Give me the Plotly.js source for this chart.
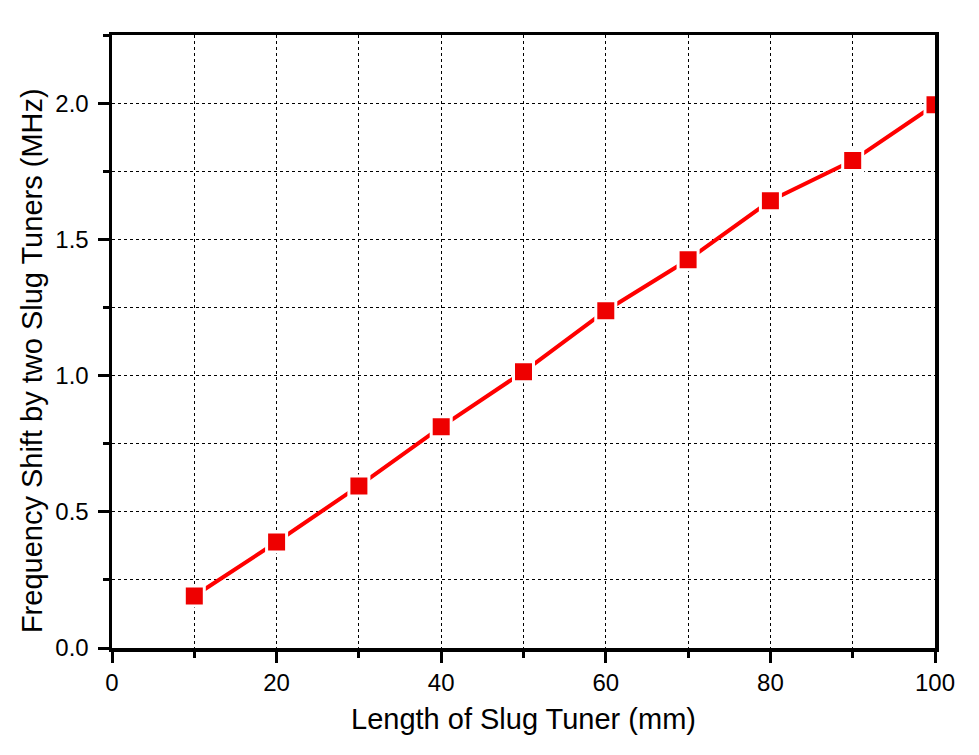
<!DOCTYPE html>
<html>
<head>
<meta charset="utf-8">
<script src="https://cdn.plot.ly/plotly-3.0.1.min.js"></script>
<style>html,body{margin:0;padding:0;background:#fff;}#chart{width:979px;height:755px;}</style>
</head>
<body>
<div id="chart"></div>
<script>
const lengthMM = [10, 20, 30, 40, 50, 60, 70, 80, 90, 100];
const freqShiftMHz = [0.191, 0.389, 0.595, 0.812, 1.014, 1.238, 1.425, 1.642, 1.789, 1.994];
const xTitle = 'Length of Slug Tuner (mm)';
const yTitle = 'Frequency Shift by two Slug Tuners (MHz)';

const trace = {
  x: lengthMM,
  y: freqShiftMHz,
  type: 'scatter',
  mode: 'lines+markers',
  line: {color: '#ff0000', width: 4},
  marker: {symbol: 'square', size: 20, color: '#ee0000', line: {color: '#ffffff', width: 3}},
  cliponaxis: true,
  showlegend: false
};

const fam = 'Arial, "Liberation Sans", sans-serif';
const layout = {
  width: 979, height: 755,
  margin: {l: 112, r: 44, t: 35, b: 107},
  paper_bgcolor: '#fff', plot_bgcolor: '#fff',
  font: {family: fam, color: '#000'},
  xaxis: {
    range: [0, 100], dtick: 20, tick0: 0,
    showline: true, linecolor: '#000', linewidth: 3.5, mirror: true,
    ticks: 'outside', ticklen: 11, tickwidth: 3, tickcolor: '#000',
    ticklabelstandoff: 0,
    showgrid: true, gridcolor: '#000', gridwidth: 1, griddash: 'dot',
    zeroline: false,
    minor: {dtick: 10, ticks: 'outside', ticklen: 6, tickwidth: 3, tickcolor: '#000', showgrid: true, gridcolor: '#000', gridwidth: 1, griddash: 'dot'},
    tickfont: {size: 24, family: fam, color: '#000'},
    title: {text: xTitle, font: {size: 29, family: fam, color: '#000'}, standoff: 14}
  },
  yaxis: {
    range: [0, 2.25], dtick: 0.5, tick0: 0, tickformat: '.1f',
    showline: true, linecolor: '#000', linewidth: 3.5, mirror: true,
    ticks: 'outside', ticklen: 11, tickwidth: 3, tickcolor: '#000',
    ticklabelstandoff: 4,
    showgrid: true, gridcolor: '#000', gridwidth: 1, griddash: 'dot',
    zeroline: false,
    minor: {dtick: 0.25, ticks: 'outside', ticklen: 6, tickwidth: 3, tickcolor: '#000', showgrid: true, gridcolor: '#000', gridwidth: 1, griddash: 'dot'},
    tickfont: {size: 24, family: fam, color: '#000'}
  },
  annotations: [{
    text: yTitle, xref: 'paper', yref: 'paper',
    x: -0.0972, y: 0.468, xanchor: 'center', yanchor: 'middle',
    textangle: -90, showarrow: false,
    font: {size: 29, family: fam, color: '#000'}
  }]
};

Plotly.newPlot('chart', [trace], layout, {displayModeBar: false, staticPlot: true});
</script>
</body>
</html>
